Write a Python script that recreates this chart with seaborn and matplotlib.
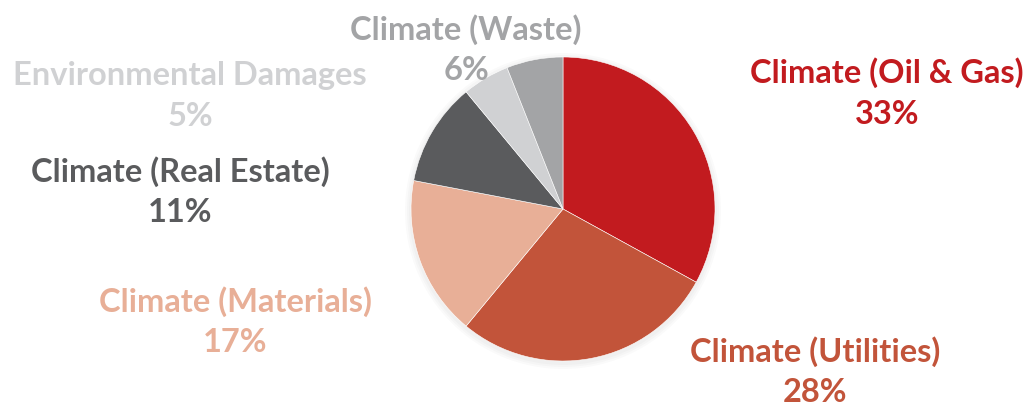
import matplotlib
matplotlib.use("Agg")
import matplotlib.pyplot as plt
import seaborn as sns

# categories and shares (%), clockwise from 12 o'clock
categories = ["Climate (Oil & Gas)", "Climate (Utilities)", "Climate (Materials)",
              "Climate (Real Estate)", "Environmental Damages", "Climate (Waste)"]
shares = [33, 28, 17, 11, 5, 6]

colors = sns.color_palette(["#C21B1F", "#C2543A", "#E8AF97", "#5A5B5D", "#D0D1D3", "#A3A4A6"])
text_colors = ["#C21B1F", "#C2543A", "#E8AF97", "#5A5B5D", "#D0D1D3", "#A3A4A6"]
# label centres in pixels from top-left (name line)
label_pos = [(887, 73), (815, 352), (235, 302), (180, 172), (190, 75), (466, 30)]

sns.set_theme(style="white")
plt.rcParams["font.family"] = ["Lato", "DejaVu Sans"]

W, H = 1027, 406
fig = plt.figure(figsize=(W / 100, H / 100), dpi=100)
ax = fig.add_axes([0, 0, 1, 1])

# soft shadow
for i, a in enumerate([0.02, 0.02, 0.02]):
    ax.add_patch(plt.Circle((563, H - 212), 152 + 2 + i * 2, color="black", alpha=a, lw=0))

ax.pie(shares, colors=colors, startangle=90, counterclock=False,
       center=(563, H - 210), radius=152, frame=True,
       wedgeprops=dict(linewidth=0.4, edgecolor="white"))
ax.set_xlim(0, W)
ax.set_ylim(0, H)
ax.axis("off")

for name, val, col, (x, y) in zip(categories, shares, text_colors, label_pos):
    ax.text(x, H - y, name, ha="center", va="center", fontsize=23.5,
            fontweight="bold", color=col)
    ax.text(x, H - y - 41, f"{val}%", ha="center", va="center", fontsize=23.5,
            fontweight="bold", color=col)

fig.savefig("out.png", dpi=100, facecolor="white")
